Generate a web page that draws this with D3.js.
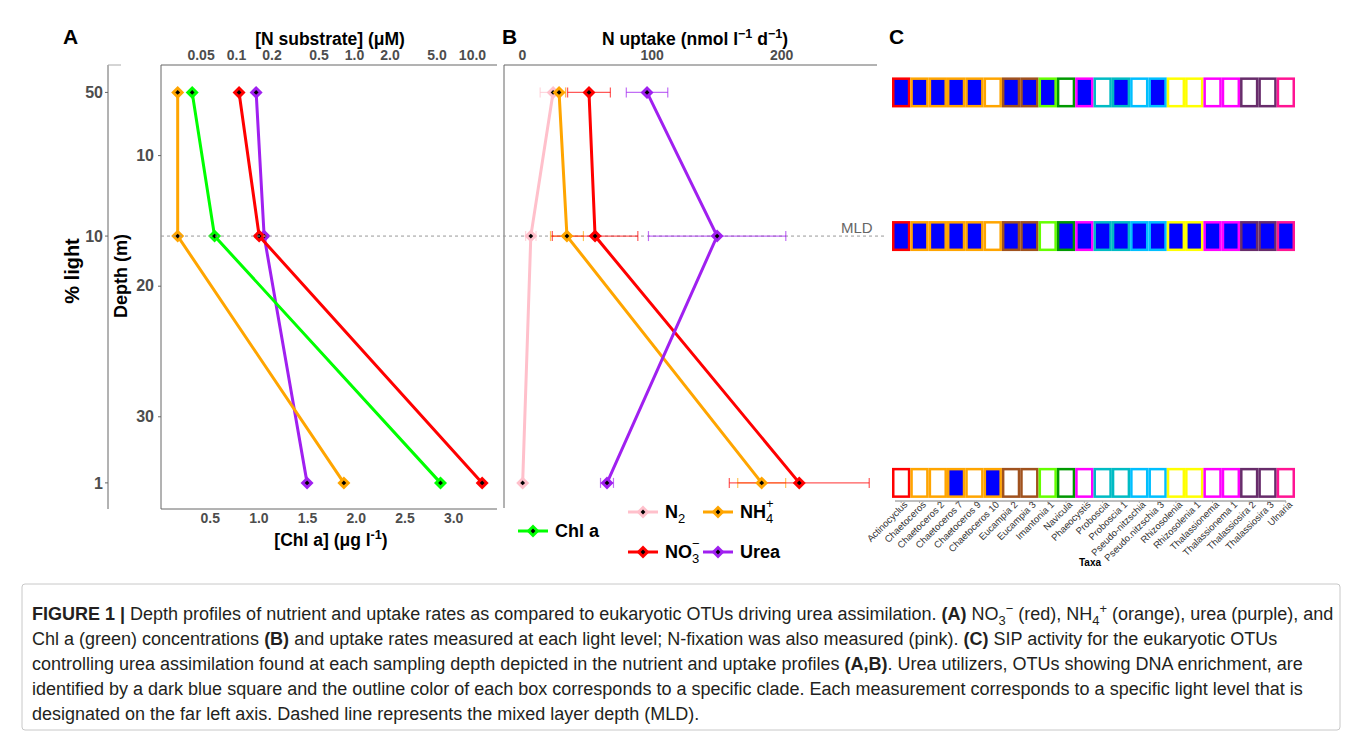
<!DOCTYPE html>
<html>
<head>
<meta charset="utf-8">
<title>Figure 1</title>
<script src="https://cdn.jsdelivr.net/npm/d3@7"></script>
<style>
  body { margin: 0; background: #fff; font-family: "Liberation Sans", Arial, sans-serif; }
  svg text { font-family: "Liberation Sans", Arial, sans-serif; }
</style>
</head>
<body>
<div id="chart"></div>
<script>
// ----- Data -----
var lightLevels = [50, 10, 1];          // % light at each sampling depth
var depths = [5.2, 16.2, 35.1];         // m
var depthTicks = [10, 20, 30];

// panel A: concentrations
var no3Conc  = [0.106, 0.157, 12.2];    // uM
var nh4Conc  = [0.032, 0.032, 0.82];
var ureaConc = [0.148, 0.173, 0.40];
var chlA     = [0.32, 0.55, 2.87];      // ug/l
var nTicks   = [0.05, 0.1, 0.2, 0.5, 1, 2, 5, 10];
var nTickLabels = ['0.05', '0.1', '0.2', '0.5', '1.0', '2.0', '5.0', '10.0'];
var chlTicks = [0.5, 1.0, 1.5, 2.0, 2.5, 3.0];

// panel B: uptake rates (nmol/l/d) with error
var n2Uptake   = [24, 6.8, 0.5];   var n2Err   = [10, 4, 0];
var nh4Uptake  = [28.6, 34.7, 185]; var nh4Err  = [5, 12.7, 18.5];
var no3Uptake  = [51.7, 56.4, 214]; var no3Err  = [16.5, 33, 54];
var ureaUptake = [96.5, 150.6, 65.6]; var ureaErr = [16, 53, 5];
var uptakeTicks = [0, 100, 200];

// panel C: SIP activity
var taxa = ['Actinocyclus', 'Chaetoceros', 'Chaetoceros 2', 'Chaetoceros 7', 'Chaetoceros 9',
  'Chaetoceros 10', 'Eucampia 2', 'Eucampia 3', 'Imantonia 1', 'Navicula', 'Phaeocystis',
  'Proboscia', 'Proboscia 1', 'Pseudo-nitzschia', 'Pseudo.nitzschia 3', 'Rhizosolenia',
  'Rhizosolenia 1', 'Thalassionema', 'Thalassionema 1', 'Thalassiosira 2', 'Thalassiosira 3', 'Ulnaria'];
var cladeColors = ['#FF0000', '#FFA500', '#FFA500', '#FFA500', '#FFA500', '#FFA500',
  '#A0521E', '#A0521E', '#66FF00', '#009900', '#FF00FF', '#00BBC4', '#00BBC4',
  '#00BFFF', '#00BFFF', '#FFFF00', '#FFFF00', '#FF00FF', '#FF00FF', '#682C6B', '#682C6B', '#FF1493'];
var enriched50 = [1,1,1,1,1,0,1,1,1,0,1,0,1,0,1,0,0,0,0,0,0,0];
var enriched10 = [1,1,1,1,1,0,1,1,0,1,1,1,1,1,1,1,1,1,1,1,1,1];
var enriched1  = [0,0,0,1,0,1,0,0,0,0,0,0,0,0,0,0,0,0,0,0,0,0];

// ----- Helpers -----
var grey = '#4D4D4D';

function diamond(ctx, x, y, r, c) {
   return ctx.append('path')
      .attr('d', `M${x},${y-r}L${x+r},${y}L${x},${y+r}L${x-r},${y}Z`)
      .attr('fill', c);
}

function addMarker(ctx, x, y, c) {
   diamond(ctx, x, y, 6.5, c);
   diamond(ctx, x, y, 2.4, '#000');
}

// draw text made of segments: [text, style] with style '', 'b', 'sub', 'sup'
function richText(ctx, x, y, segs, size, atts) {
   let t = ctx.append('text').attr('x', x).attr('y', y).attr('font-size', size);
   let shift = 0;
   for (let s of segs) {
      let ts = t.append('tspan').text(s[0]);
      let want = s[1] === 'sub' ? size * 0.3 : (s[1] === 'sup' ? -size * 0.4 : 0);
      if (want !== shift) { ts.attr('dy', want - shift); shift = want; }
      if (s[1] === 'b') ts.attr('font-weight', 'bold');
      if (s[1] === 'sub' || s[1] === 'sup') ts.attr('font-size', size * 0.72);
   }
   if (atts) for (let a of atts) t.attr(...a);
   return t;
}

function styleTicks(g, size) {
   g.select('.domain').remove();
   g.selectAll('text').attr('font-size', size).attr('font-weight', 'bold').attr('fill', grey)
      .attr('font-family', '"Liberation Sans", Arial, sans-serif');
}

// ----- Main -----
var width = 1358, height = 735;
var svg = d3.select('#chart').append('svg').attr('width', width).attr('height', height);

var y = d3.scaleLinear().domain([3.1, 37.1]).range([65, 509]);
var xN = d3.scaleLog().domain([0.0231, 16.3]).range([161, 497]);
var xChl = d3.scaleLinear().domain([0, 3.45]).range([161, 497]);
var xU = d3.scaleLinear().domain([-13.9, 274]).range([504, 877]);

// panel letters
[['A', 63], ['B', 502], ['C', 889]].forEach(p => {
   svg.append('text').attr('x', p[1]).attr('y', 44).text(p[0])
      .attr('font-size', 21).attr('font-weight', 'bold');
});

// % light axis
var gLight = svg.append('g').attr('transform', 'translate(108,0)');
gLight.append('line').attr('x1', 0).attr('x2', 0).attr('y1', 65).attr('y2', 509).attr('stroke', '#666');
gLight.append('line').attr('x1', 0).attr('x2', 13).attr('y1', 65).attr('y2', 65).attr('stroke', '#aaa');
depths.forEach((d, i) => {
   gLight.append('line').attr('x1', -3).attr('x2', 0).attr('y1', y(d)).attr('y2', y(d)).attr('stroke', '#666');
   gLight.append('text').attr('x', -5).attr('y', y(d)).attr('dy', '0.36em')
      .attr('text-anchor', 'end').attr('font-size', 16).attr('font-weight', 'bold')
      .attr('fill', grey).text(lightLevels[i]);
});
svg.append('text').attr('transform', 'translate(79,271) rotate(-90)')
   .attr('text-anchor', 'middle').attr('font-size', 20).attr('font-weight', 'bold')
   .text('% light');

// depth axis
var gDepth = svg.append('g').attr('transform', 'translate(161,0)');
gDepth.call(d3.axisLeft(y).tickValues(depthTicks).tickSize(3).tickPadding(4));
styleTicks(gDepth, 16);
gDepth.selectAll('line').attr('stroke', '#666');
svg.append('text').attr('transform', 'translate(127,276) rotate(-90)')
   .attr('text-anchor', 'middle').attr('font-size', 18).attr('font-weight', 'bold').text('Depth (m)');

// panel A frame
var gA = svg.append('g');
gA.append('path').attr('d', 'M497,65H161V509H497').attr('fill', 'none').attr('stroke', '#666');

var gTopA = svg.append('g').attr('transform', 'translate(0,65)');
gTopA.call(d3.axisTop(xN).tickValues(nTicks).tickFormat((d, i) => nTickLabels[i]).tickSize(0).tickPadding(5));
styleTicks(gTopA, 14);
richText(svg, 330, 45, [['[N substrate] (', ''], ['\u03bc', ''], ['M)', '']], 17.5,
   [['text-anchor', 'middle'], ['font-weight', 'bold']]);

var gBotA = svg.append('g').attr('transform', 'translate(0,509)');
gBotA.call(d3.axisBottom(xChl).tickValues(chlTicks).tickFormat(d3.format('.1f')).tickSize(0).tickPadding(4));
styleTicks(gBotA, 14);
richText(svg, 331, 546, [['[Chl a] (\u03bcg l', ''], ['-1', 'sup'], [')', '']], 17.5,
   [['text-anchor', 'middle'], ['font-weight', 'bold']]);

// panel B frame
svg.append('path').attr('d', 'M877,65H504V508').attr('fill', 'none').attr('stroke', '#666');
var gTopB = svg.append('g').attr('transform', 'translate(0,65)');
gTopB.call(d3.axisTop(xU).tickValues(uptakeTicks).tickSize(0).tickPadding(5));
styleTicks(gTopB, 14);
richText(svg, 695, 45, [['N uptake (nmol l', ''], ['\u22121', 'sup'], [' d', ''], ['\u22121', 'sup'], [')', '']], 17.5,
   [['text-anchor', 'middle'], ['font-weight', 'bold']]);

// MLD dashed line
svg.append('line').attr('x1', 161).attr('x2', 885).attr('y1', y(depths[1])).attr('y2', y(depths[1]))
   .attr('stroke', '#999').attr('stroke-dasharray', '3,3');
svg.append('text').attr('x', 841).attr('y', y(depths[1]) - 3).attr('font-size', 15)
   .attr('fill', '#666').text('MLD');

// panel A series
var seriesA = [
   { vals: ureaConc, x: xN, c: '#A020F0' },
   { vals: nh4Conc, x: xN, c: '#FFA500' },
   { vals: chlA, x: xChl, c: '#00FF00' },
   { vals: no3Conc, x: xN, c: '#FF0000' }
];
seriesA.forEach(s => {
   let line = d3.line().x((v) => s.x(v)).y((v, i) => y(depths[i]));
   gA.append('path').attr('d', line(s.vals)).attr('fill', 'none')
      .attr('stroke', s.c).attr('stroke-width', 3);
   s.vals.forEach((v, i) => addMarker(gA, s.x(v), y(depths[i]), s.c));
});

// panel B series
var gB = svg.append('g');
var seriesB = [
   { vals: n2Uptake, err: n2Err, c: '#FFC0CB' },
   { vals: nh4Uptake, err: nh4Err, c: '#FFA500' },
   { vals: no3Uptake, err: no3Err, c: '#FF0000' },
   { vals: ureaUptake, err: ureaErr, c: '#A020F0' }
];
seriesB.forEach(s => {
   let line = d3.line().x((v) => xU(v)).y((v, i) => y(depths[i]));
   gB.append('path').attr('d', line(s.vals)).attr('fill', 'none')
      .attr('stroke', s.c).attr('stroke-width', 3);
});
seriesB.forEach(s => {
   s.vals.forEach((v, i) => {
      if (!s.err[i]) return;
      let yy = y(depths[i]), x0 = xU(v - s.err[i]), x1 = xU(v + s.err[i]);
      let eb = gB.append('g').attr('stroke', s.c).attr('stroke-opacity', 0.65).attr('stroke-width', 1.2);
      eb.append('line').attr('x1', x0).attr('x2', x1).attr('y1', yy).attr('y2', yy);
      eb.append('line').attr('x1', x0).attr('x2', x0).attr('y1', yy - 5).attr('y2', yy + 5);
      eb.append('line').attr('x1', x1).attr('x2', x1).attr('y1', yy - 5).attr('y2', yy + 5);
   });
});
seriesB.forEach(s => {
   s.vals.forEach((v, i) => addMarker(gB, xU(v), y(depths[i]), s.c));
});

// legend
var legend = [
   { x: 628, y: 512, c: '#FFC0CB', main: 'N', sub: '2', sup: '' },
   { x: 703, y: 512, c: '#FFA500', main: 'NH', sub: '4', sup: '+' },
   { x: 518, y: 531, c: '#00FF00', main: 'Chl a', sub: '', sup: '' },
   { x: 628, y: 552, c: '#FF0000', main: 'NO', sub: '3', sup: '\u2212' },
   { x: 703, y: 552, c: '#A020F0', main: 'Urea', sub: '', sup: '' }
];
legend.forEach(l => {
   let g = svg.append('g');
   g.append('line').attr('x1', l.x).attr('x2', l.x + 30).attr('y1', l.y).attr('y2', l.y)
      .attr('stroke', l.c).attr('stroke-width', 3);
   addMarker(g, l.x + 15, l.y, l.c);
   let t = g.append('text').attr('x', l.x + 37).attr('y', l.y + 6).attr('font-size', 18)
      .attr('font-weight', 'bold').text(l.main);
   let w = t.node().getComputedTextLength();
   if (l.sub) g.append('text').attr('x', l.x + 37 + w).attr('y', l.y + 11).attr('font-size', 13).text(l.sub);
   if (l.sup) g.append('text').attr('x', l.x + 37 + w).attr('y', l.y - 4).attr('font-size', 13).text(l.sup);
});

// panel C
var xC = d3.scaleBand().domain(taxa).range([892, 1295]);
var rows = [enriched50, enriched10, enriched1];
var gC = svg.append('g');
rows.forEach((r, ri) => {
   let yc = y(depths[ri]);
   taxa.forEach((t, i) => {
      gC.append('rect').attr('x', xC(t)).attr('y', yc - 15).attr('width', xC.bandwidth()).attr('height', 30)
         .attr('fill', cladeColors[i]);
      gC.append('rect').attr('x', xC(t) + 2.5).attr('y', yc - 12.5)
         .attr('width', xC.bandwidth() - 5).attr('height', 25)
         .attr('fill', r[i] ? '#0000FF' : '#FFFFFF');
   });
});
var gTaxa = svg.append('g').attr('transform', 'translate(0,501)');
gTaxa.call(d3.axisBottom(xC).tickSize(2).tickPadding(3));
gTaxa.select('.domain').attr('stroke', '#aaa').attr('stroke-width', 1.5)
   .attr('d', `M${xC.range()[0] + 3},0H${xC.range()[1] - 9}`);
gTaxa.selectAll('line').attr('stroke', '#aaa');
gTaxa.selectAll('text').attr('font-size', 9.5).attr('fill', '#333')
   .attr('font-family', '"Liberation Sans", Arial, sans-serif')
   .attr('text-anchor', 'end').attr('dy', 0).attr('y', 8).attr('x', 2)
   .attr('transform', 'rotate(-45)');
svg.append('text').attr('x', 1090).attr('y', 566).attr('text-anchor', 'middle')
   .attr('font-size', 10).attr('font-weight', 'bold').text('Taxa');

// caption
svg.append('rect').attr('x', 22).attr('y', 584).attr('width', 1318).attr('height', 146)
   .attr('fill', 'none').attr('stroke', '#c8c8c8').attr('rx', 3);
var caption = [
   [['FIGURE 1 |', 'b'], [' Depth profiles of nutrient and uptake rates as compared to eukaryotic OTUs driving urea assimilation. ', ''],
    ['(A)', 'b'], [' NO', ''], ['3', 'sub'], ['\u2212', 'sup'], [' (red), NH', ''], ['4', 'sub'], ['+', 'sup'],
    [' (orange), urea (purple), and', '']],
   [['Chl a (green) concentrations ', ''], ['(B)', 'b'], [' and uptake rates measured at each light level; N-fixation was also measured (pink). ', ''],
    ['(C)', 'b'], [' SIP activity for the eukaryotic OTUs', '']],
   [['controlling urea assimilation found at each sampling depth depicted in the nutrient and uptake profiles ', ''],
    ['(A,B)', 'b'], ['. Urea utilizers, OTUs showing DNA enrichment, are', '']],
   [['identified by a dark blue square and the outline color of each box corresponds to a specific clade. Each measurement corresponds to a specific light level that is', '']],
   [['designated on the far left axis. Dashed line represents the mixed layer depth (MLD).', '']]
];
caption.forEach((segs, i) => {
   richText(svg, 32, 620 + i * 25, segs, 18, [['fill', '#231F20']]);
});
</script>
</body>
</html>
